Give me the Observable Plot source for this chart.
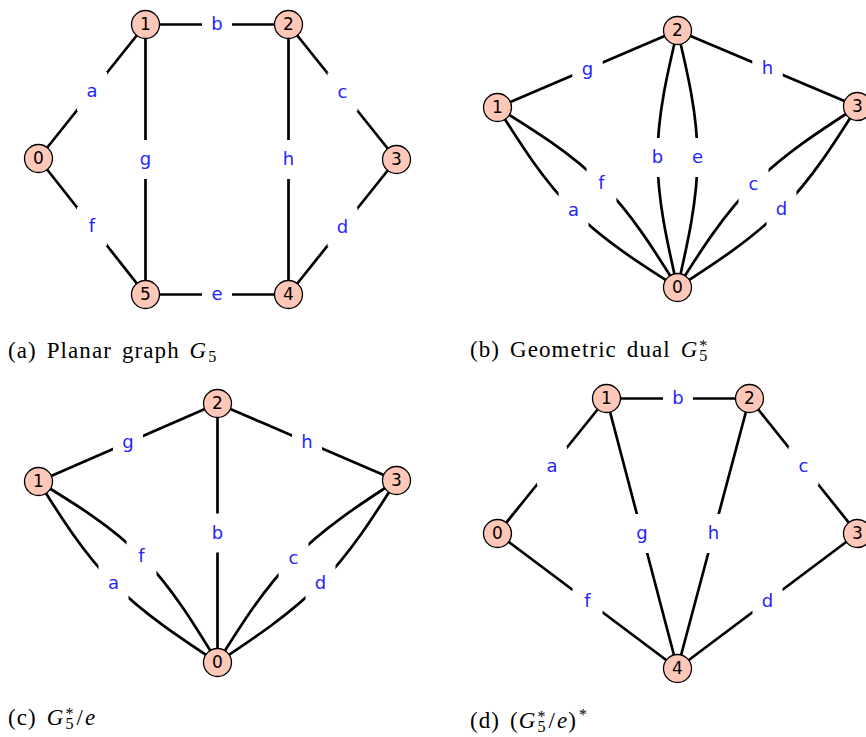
<!DOCTYPE html>
<html>
<head>
<meta charset="utf-8">
<script src="https://cdn.jsdelivr.net/npm/d3@7"></script>
<script src="https://cdn.jsdelivr.net/npm/@observablehq/plot@0.6"></script>
<style>
  body { margin: 0; background: #fff; }
  #wrap { position: relative; width: 866px; height: 737px; overflow: hidden; }
  .cap { position: absolute; font-family: "Liberation Serif", "DejaVu Serif", serif; font-size: 23px; letter-spacing: 1.1px; word-spacing: 3px; line-height: 1; color: #000; white-space: nowrap; }
  .scr { position: relative; display: inline-block; font-size: 0.7em; font-style: normal; margin-left: 1px; margin-right: 2px; letter-spacing: 0; line-height: 1; }
  .scr .sb { position: relative; top: 0.25em; }
  .scr .sp { position: absolute; left: 0; top: -0.35em; }
  .sl { margin: 0 1px; }
  .ou { font-size: 0.7em; position: relative; top: -0.5em; margin-left: 2px; }
</style>
</head>
<body>
<div id="wrap"></div>
<script>
// ---- Panel (a): planar graph G5 ----
const nodesA = [["0", 38, 158], ["1", 145, 24], ["2", 288, 24], ["3", 396, 159], ["4", 288, 294], ["5", 145, 294]];
const edgesA = [["a", "0", "1"], ["b", "1", "2"], ["c", "2", "3"], ["d", "3", "4"], ["e", "4", "5"], ["f", "5", "0"], ["g", "1", "5"], ["h", "2", "4"]];

// ---- Panel (b): geometric dual G5* (label positions for curved multi-edges) ----
const nodesB = [["0", 677, 287], ["1", 497, 107], ["2", 677, 30], ["3", 857, 106]];
const edgesB = [["g", "1", "2"], ["h", "2", "3"], ["b", "2", "0", 657, 157], ["e", "2", "0", 697, 157],
                ["a", "1", "0", 573, 210], ["f", "1", "0", 601, 183], ["c", "3", "0", 753, 184], ["d", "3", "0", 781, 209]];

// ---- Panel (c): G5*/e ----
const nodesC = [["0", 217, 662], ["1", 38, 481], ["2", 217, 403], ["3", 396, 480]];
const edgesC = [["g", "1", "2"], ["h", "2", "3"], ["b", "2", "0"],
                ["a", "1", "0", 113, 583], ["f", "1", "0", 141, 556], ["c", "3", "0", 293, 558], ["d", "3", "0", 320, 583]];

// ---- Panel (d): (G5*/e)* ----
const nodesD = [["0", 497, 533], ["1", 606, 398], ["2", 749, 398], ["3", 857, 533], ["4", 677, 668]];
const edgesD = [["a", "0", "1"], ["b", "1", "2"], ["c", "2", "3"], ["d", "3", "4"], ["f", "0", "4"], ["g", "1", "4"], ["h", "2", "4"]];

const panels = [["a", nodesA, edgesA], ["b", nodesB, edgesB], ["c", nodesC, edgesC], ["d", nodesD, edgesD]];

// Build tables
const nodes = [], paths = [], labels = [];
for (const [p, ns, es] of panels) {
  const pos = new Map(ns.map(([id, x, y]) => [id, [x, y]]));
  for (const [id, x, y] of ns) nodes.push({panel: p, id, x, y});
  for (const [lab, u, v, lx, ly] of es) {
    const [x1, y1] = pos.get(u), [x2, y2] = pos.get(v);
    const mx = lx ?? (x1 + x2) / 2, my = ly ?? (y1 + y2) / 2;
    const key = p + lab;
    paths.push({key, x: x1, y: y1}, {key, x: mx, y: my}, {key, x: x2, y: y2});
    labels.push({panel: p, label: lab, x: mx, y: my});
  }
}

const chart = Plot.plot({
  width: 866, height: 737, margin: 0,
  x: {domain: [0, 866], range: [0, 866], axis: null},
  y: {domain: [0, 737], range: [0, 737], axis: null},
  style: {background: "white"},
  marks: [
    Plot.line(paths, {x: "x", y: "y", z: "key", curve: "natural", stroke: "black", strokeWidth: 2.7}),
    Plot.dot(labels, {x: "x", y: "y", symbol: "square", r: 16.9, dy: -4.5, fill: "white"}),
    Plot.dot(labels, {x: "x", y: "y", symbol: "square", r: 16.9, dy: 4.5, fill: "white"}),
    Plot.text(labels, {x: "x", y: "y", text: "label", fill: "#2424ff", fontSize: 18, fontFamily: "DejaVu Sans"}),
    Plot.dot(nodes, {x: "x", y: "y", r: 14, fill: "#fec7b8", stroke: "black", strokeWidth: 1.3}),
    Plot.text(nodes, {x: "x", y: "y", text: "id", fill: "black", fontSize: 17, fontFamily: "DejaVu Sans"})
  ]
});

const wrap = document.getElementById("wrap");
wrap.appendChild(chart);

const G5s = '<i>G</i><span class="scr"><span class="sp">*</span><span class="sb">5</span></span>';
const captions = [
  [8, 339, '(a) Planar graph <i>G</i><span class="scr"><span class="sb">5</span></span>'],
  [470, 338, '(b) Geometric dual ' + G5s],
  [8, 706, '(c) ' + G5s + '<span class="sl">/</span><i>e</i>'],
  [470, 709, '(d) (' + G5s + '<span class="sl">/</span><i>e</i>)<span class="ou">*</span>']
];
for (const [left, top, html] of captions) {
  const d = document.createElement("div");
  d.className = "cap";
  d.style.left = left + "px";
  d.style.top = top + "px";
  d.innerHTML = html;
  wrap.appendChild(d);
}
</script>
</body>
</html>
